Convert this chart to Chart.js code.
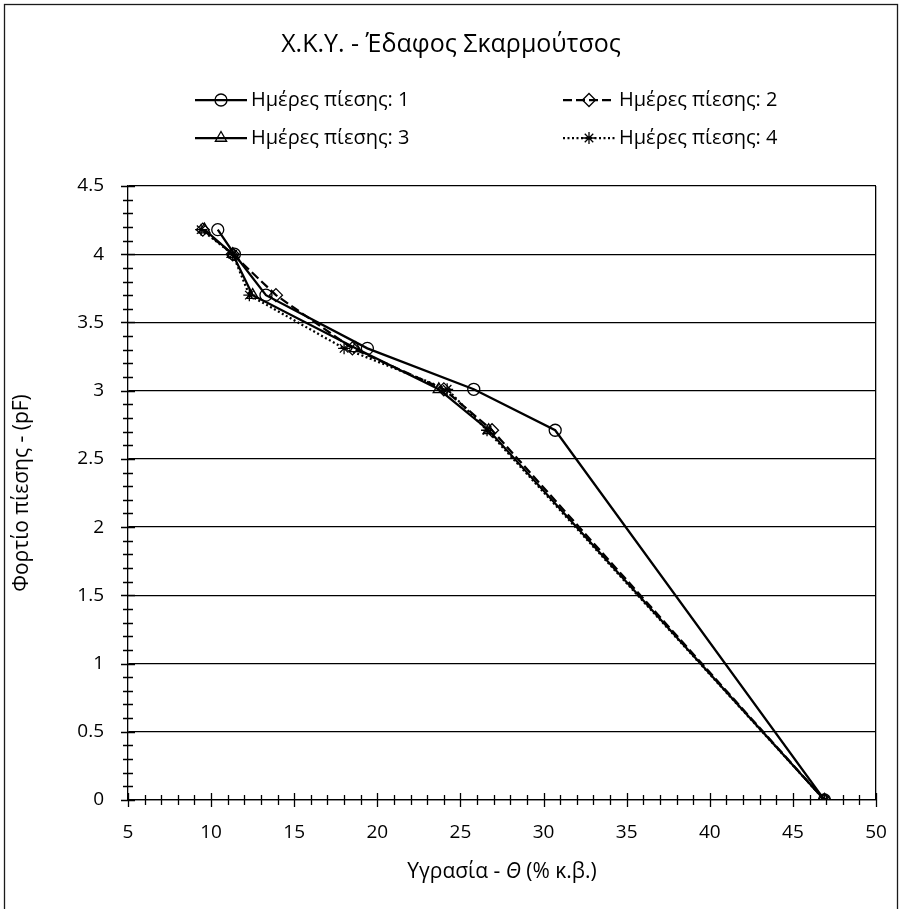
<!DOCTYPE html>
<html>
<head>
<meta charset="utf-8">
<script src="https://cdn.jsdelivr.net/npm/chart.js@4/dist/chart.umd.min.js"></script>
<style>
    html, body { margin: 0; padding: 0; background: #fff; }
    #wrap { width: 902px; height: 909px; position: relative; }
</style>
</head>
<body>
<div id="wrap"><canvas id="chart"></canvas></div>
<script>
// pF values (same for every series)
const pressure = [4.18, 4.0, 3.7, 3.31, 3.01, 2.71, 0];
// moisture Θ (% vol.) per pressure day
const day1 = [10.4, 11.4, 13.3, 19.4, 25.8, 30.7, 46.9];
const day2 = [9.5, 11.3, 13.9, 18.5, 24.0, 26.9, 46.9];
const day3 = [9.6, 11.3, 12.5, 18.7, 23.7, 26.7, 46.9];
const day4 = [9.4, 11.3, 12.3, 18.0, 24.2, 26.6, 46.9];
const seriesNames = ['Ημέρες πίεσης: 1', 'Ημέρες πίεσης: 2', 'Ημέρες πίεσης: 3', 'Ημέρες πίεσης: 4'];
const xTickLabels = ['5', '10', '15', '20', '25', '30', '35', '40', '45', '50'];
const yTickLabels = ['0', '0.5', '1', '1.5', '2', '2.5', '3', '3.5', '4', '4.5'];

const FONT = '"Open Sans", "Noto Sans", sans-serif';

function toPoints(xs) {
    return xs.map((x, i) => ({ x, y: pressure[i] }));
}

function series(label, xs, pointStyle, dash, radius) {
    return {
        label,
        data: toPoints(xs),
        borderColor: '#000',
        borderWidth: 2.25,
        borderDash: dash,
        backgroundColor: 'rgba(0,0,0,0)',
        pointStyle,
        pointRadius: radius,
        pointBorderWidth: 1.3,
        pointBorderColor: '#000',
        pointBackgroundColor: 'rgba(0,0,0,0)',
        showLine: true,
        tension: 0
    };
}

// frame, title, legend, crossing tick marks, x axis title
const decorations = {
    id: 'decorations',
    afterDraw(chart) {
        const ctx = chart.ctx;
        const area = chart.chartArea;
        const xs = chart.scales.x;
        const ys = chart.scales.y;
        ctx.save();

        ctx.strokeStyle = '#1a1a1a';
        ctx.lineWidth = 1.3;
        ctx.strokeRect(4.5, 4.5, 893, 930);

        ctx.fillStyle = '#000';
        ctx.textBaseline = 'middle';
        ctx.textAlign = 'center';
        ctx.font = '25px ' + FONT;
        ctx.fillText('Χ.Κ.Υ. - Έδαφος Σκαρμούτσος', 451, 45);

        // legend
        const colX = [195, 563];
        const rowY = [100, 138];
        ctx.font = '20px ' + FONT;
        ctx.textAlign = 'left';
        chart.data.datasets.forEach((ds, i) => {
            const x0 = colX[i % 2];
            const y = rowY[Math.floor(i / 2)];
            const w = 52;
            ctx.save();
            ctx.strokeStyle = '#000';
            ctx.lineWidth = ds.borderWidth;
            ctx.setLineDash(ds.borderDash || []);
            ctx.beginPath();
            ctx.moveTo(x0, y);
            ctx.lineTo(x0 + w, y);
            ctx.stroke();
            ctx.setLineDash([]);
            ctx.lineWidth = ds.pointBorderWidth;
            ctx.fillStyle = 'rgba(0,0,0,0)';
            Chart.helpers.drawPoint(ctx, {
                pointStyle: ds.pointStyle, radius: ds.pointRadius, rotation: 0, borderWidth: ds.pointBorderWidth
            }, x0 + w / 2, y);
            ctx.restore();
            ctx.fillText(ds.label, x0 + w + 4, y);
        });

        // tick marks crossing the axes
        ctx.strokeStyle = '#000';
        ctx.lineWidth = 1.3;
        ctx.beginPath();
        for (let v = 5; v <= 50; v += 1) {
            const px = Math.round(xs.getPixelForValue(v)) + 0.5;
            const len = v % 5 === 0 ? 7 : 5;
            ctx.moveTo(px, area.bottom - len);
            ctx.lineTo(px, area.bottom + len);
        }
        for (let k = 0; k <= 45; k++) {
            const py = Math.round(ys.getPixelForValue(k / 10)) + 0.5;
            const len = k % 5 === 0 ? 7 : 5;
            ctx.moveTo(area.left - len, py);
            ctx.lineTo(area.left + len, py);
        }
        ctx.stroke();

        // x axis title with italic Θ
        const parts = [
            { t: 'Υγρασία - ', f: '21px ' + FONT },
            { t: 'Θ', f: 'italic 21px ' + FONT },
            { t: ' (% κ.β.)', f: '21px ' + FONT }
        ];
        let total = 0;
        parts.forEach(p => { ctx.font = p.f; p.w = ctx.measureText(p.t).width; total += p.w; });
        let cx = (area.left + area.right) / 2 - total / 2;
        ctx.textAlign = 'left';
        parts.forEach(p => { ctx.font = p.f; ctx.fillText(p.t, cx, 872); cx += p.w; });
        ctx.restore();
    }
};

new Chart(document.getElementById('chart'), {
    type: 'scatter',
    data: {
        datasets: [
            series(seriesNames[0], day1, 'circle', [], 6),
            series(seriesNames[1], day2, 'rectRot', [9, 4], 6.5),
            series(seriesNames[2], day3, 'triangle', [], 6.5),
            series(seriesNames[3], day4, 'star', [2, 2.5], 6)
        ]
    },
    options: {
        responsive: true,
        maintainAspectRatio: false,
        animation: false,
        layout: { padding: { top: 186, right: 26, bottom: 0, left: 0 } },
        plugins: {
            legend: { display: false },
            title: { display: false },
            tooltip: { enabled: false }
        },
        scales: {
            x: {
                type: 'linear',
                min: 5,
                max: 50,
                afterFit: (scale) => {
                    scale.height = 109;
                    scale.paddingLeft = 0;
                    scale.paddingRight = 0;
                },
                ticks: {
                    stepSize: 5,
                    padding: 21,
                    color: '#000',
                    font: { family: FONT, size: 19 },
                    callback: (v) => xTickLabels[(v - 5) / 5]
                },
                grid: {
                    drawTicks: false,
                    color: (c) => c.tick && c.tick.value === 50 ? '#000' : 'rgba(0,0,0,0)',
                    lineWidth: 1.3
                },
                border: { display: true, color: '#000', width: 1.3 }
            },
            y: {
                type: 'linear',
                min: 0,
                max: 4.5,
                afterFit: (scale) => { scale.width = 128; },
                ticks: {
                    stepSize: 0.5,
                    padding: 24,
                    color: '#000',
                    font: { family: FONT, size: 19 },
                    callback: (v) => yTickLabels[Math.round(v * 2)]
                },
                grid: { drawTicks: false, color: '#000', lineWidth: 1.3 },
                border: { display: true, color: '#000', width: 1.3 },
                title: {
                    display: true,
                    text: 'Φορτίο πίεσης - (pF)',
                    color: '#000',
                    font: { family: FONT, size: 21 },
                    padding: { top: 9, bottom: 0 }
                }
            }
        }
    },
    plugins: [decorations]
});
</script>
</body>
</html>
